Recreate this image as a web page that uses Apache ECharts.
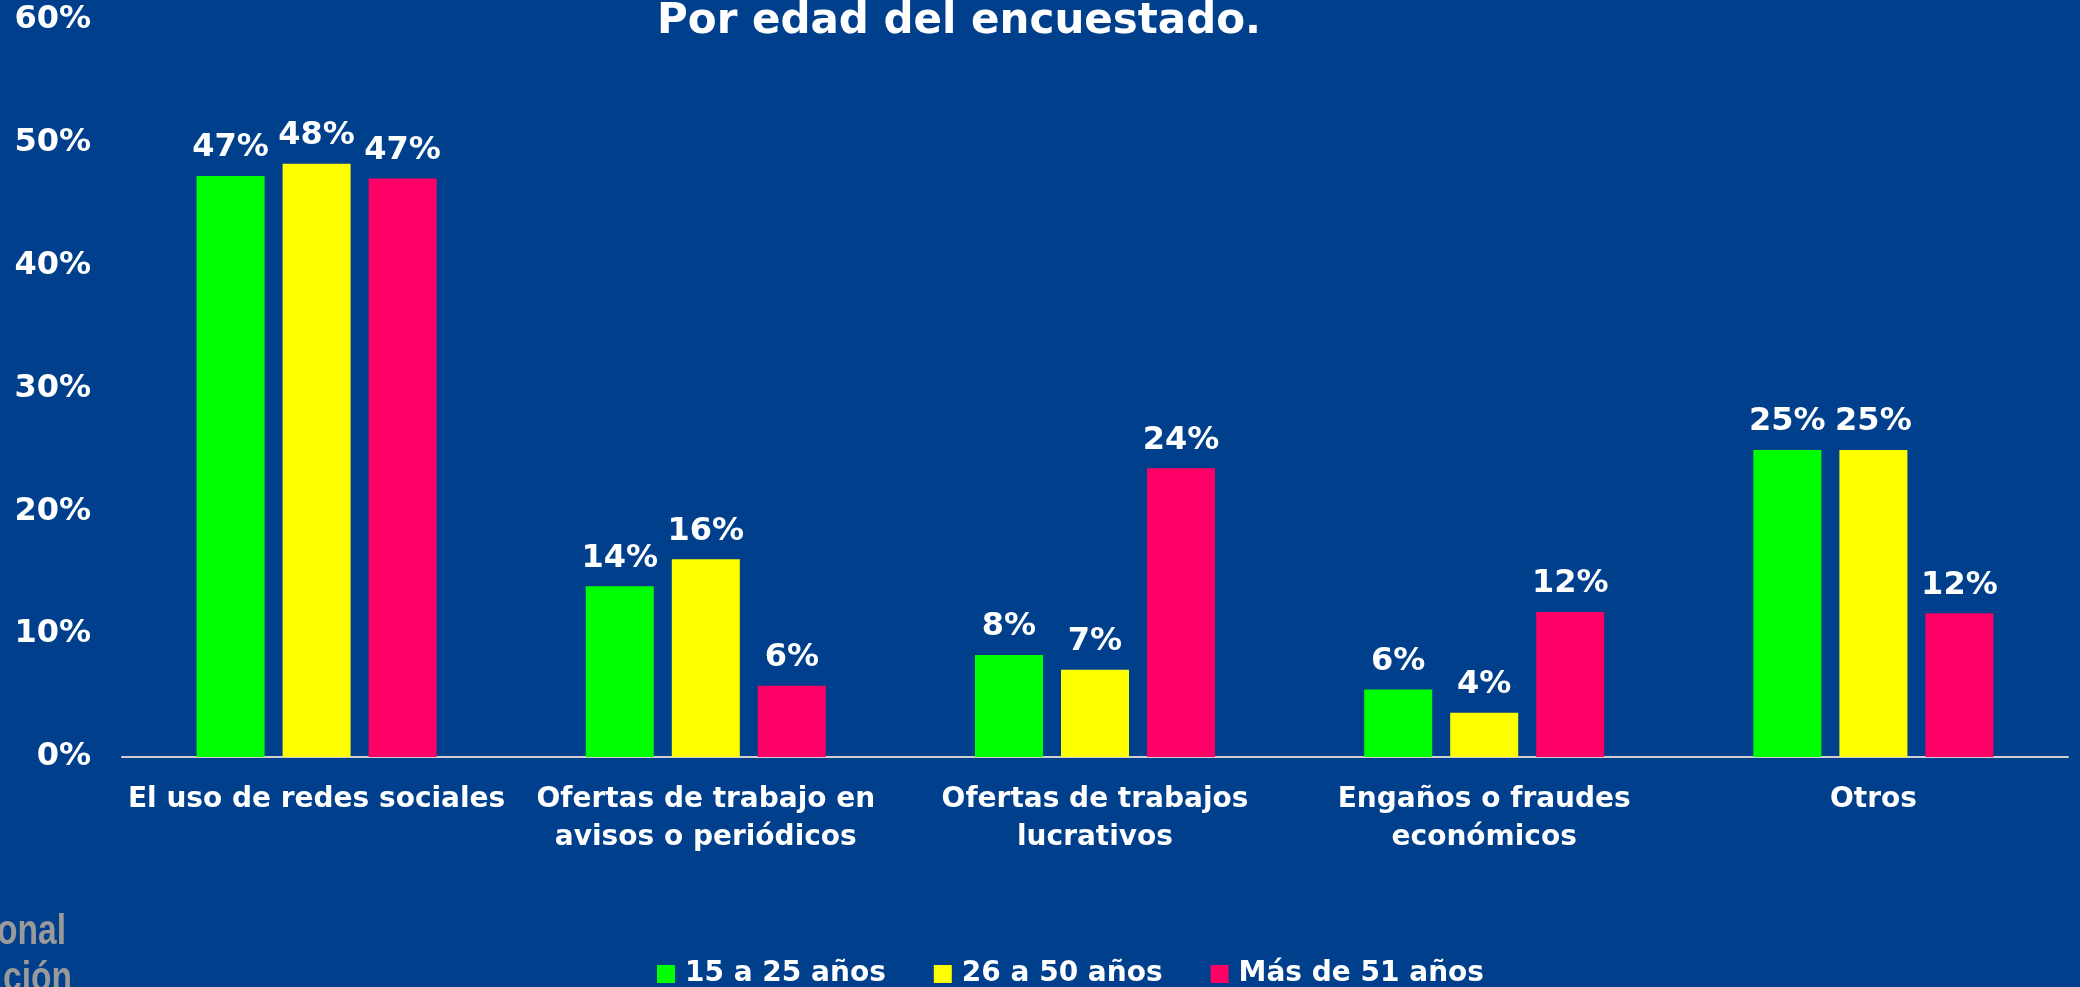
<!DOCTYPE html>
<html>
<head>
<meta charset="utf-8">
<title>Por edad del encuestado</title>
<script src="https://cdn.jsdelivr.net/npm/echarts@6/dist/echarts.min.js"></script>
<style>
  html, body { margin: 0; padding: 0; background: #003f8c; }
  #chart { width: 2080px; height: 987px; }
</style>
</head>
<body>
<div id="chart"></div>
<script>
// categorias del eje x
const categories = [
  "El uso de redes sociales",
  "Ofertas de trabajo en\navisos o periódicos",
  "Ofertas de trabajos\nlucrativos",
  "Engaños o fraudes\neconómicos",
  "Otros"
];
const seriesNames = ["15 a 25 años", "26 a 50 años", "Más de 51 años"];
// valores (%)
const edad15a25 = [47.3, 13.9, 8.3, 5.5, 25.0];
const edad26a50 = [48.3, 16.1, 7.1, 3.6, 25.0];
const edad51mas = [47.1, 5.8, 23.5, 11.8, 11.7];

const font = "DejaVu Sans";

let myChart = echarts.init(document.getElementById("chart"));

let labelOpt = {
  show: true,
  position: "top",
  distance: 12,
  color: "#ffffff",
  fontFamily: font,
  fontWeight: "bold",
  fontSize: 32,
  formatter: function(p) {
    return Math.round(p.value) + "%";
  }
};

function makeSeries(name, data, color) {
  return {
    name: name,
    type: "bar",
    data: data,
    barWidth: 68,
    barGap: "26.5%",
    itemStyle: { color: color },
    label: labelOpt
  };
}

// texto gris recortado del logo (abajo a la izquierda)
function logoText(text, x, y) {
  return {
    type: "text",
    x: x,
    y: y,
    scaleX: 0.78,
    style: {
      text: text,
      align: "right",
      verticalAlign: "top",
      fill: "#9a9a9a",
      font: "bold 43px 'Liberation Sans'"
    }
  };
}

const options = {
  backgroundColor: "#003f8c",
  animation: false,
  title: {
    text: "Por edad del encuestado.",
    left: 652,
    top: -4,
    textStyle: {
      color: "#ffffff",
      fontFamily: font,
      fontWeight: "bold",
      fontSize: 42
    }
  },
  legend: {
    data: seriesNames,
    left: 652,
    top: 955,
    itemWidth: 18,
    itemHeight: 18,
    itemGap: 48,
    icon: "rect",
    textStyle: {
      color: "#ffffff",
      fontFamily: font,
      fontWeight: "bold",
      fontSize: 28,
      padding: [0, 0, 0, 5]
    }
  },
  grid: {
    left: 122,
    right: 12,
    top: 20,
    bottom: 230,
    containLabel: false
  },
  xAxis: {
    type: "category",
    data: categories,
    axisLine: { lineStyle: { color: "#d0d0d0", width: 2 } },
    axisTick: { show: false },
    axisLabel: {
      interval: 0,
      margin: 24,
      color: "#ffffff",
      fontFamily: font,
      fontWeight: "bold",
      fontSize: 28,
      lineHeight: 38
    }
  },
  yAxis: {
    type: "value",
    min: 0,
    max: 60,
    interval: 10,
    axisLine: { show: false },
    axisTick: { show: false },
    splitLine: { show: false },
    axisLabel: {
      margin: 31,
      color: "#ffffff",
      fontFamily: font,
      fontWeight: "bold",
      fontSize: 32,
      formatter: "{value}%"
    }
  },
  graphic: [
    logoText("onal", 66, 911),
    logoText("ción", 72, 958)
  ],
  series: [
    makeSeries(seriesNames[0], edad15a25, "#00ff00"),
    makeSeries(seriesNames[1], edad26a50, "#ffff00"),
    makeSeries(seriesNames[2], edad51mas, "#ff0066")
  ]
};

myChart.setOption(options);
</script>
</body>
</html>
